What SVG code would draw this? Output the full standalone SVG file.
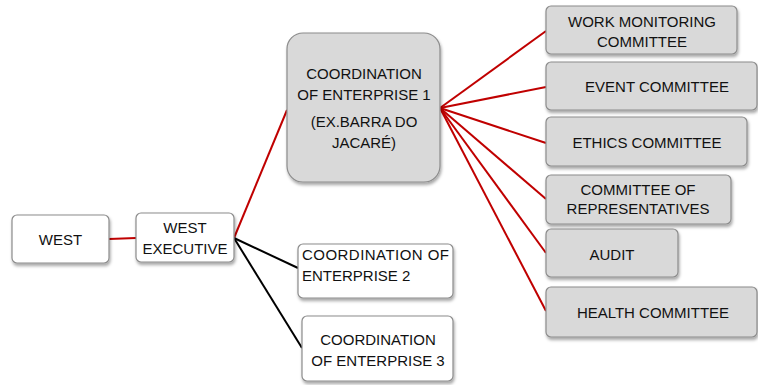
<svg xmlns="http://www.w3.org/2000/svg" width="758" height="385" viewBox="0 0 758 385">
<defs>
<filter id="sh" x="-20%" y="-20%" width="140%" height="150%">
<feDropShadow dx="1" dy="2.5" stdDeviation="1.8" flood-color="#000" flood-opacity="0.35"/>
</filter>
</defs>
<style>
.w{fill:#ffffff;stroke:#8c8c8c;stroke-width:1.2;filter:url(#sh)}
.g{fill:#d9d9d9;stroke:#8c8c8c;stroke-width:1.2;filter:url(#sh)}
text{font-family:"Liberation Sans",Arial,sans-serif;font-size:15px;fill:#111;text-anchor:middle}
.red{stroke:#c00000;stroke-width:2;fill:none}
.blk{stroke:#000;stroke-width:2;fill:none}
</style>
<g id="connectors">
<line class="red" x1="109" y1="239" x2="136" y2="238"/>
<line class="red" x1="234" y1="238" x2="287" y2="110"/>
<line class="blk" x1="234" y1="238" x2="298" y2="268"/>
<line class="blk" x1="234" y1="238" x2="302" y2="348"/>
<line class="red" x1="440" y1="108" x2="546" y2="31"/>
<line class="red" x1="440" y1="108" x2="546" y2="87"/>
<line class="red" x1="440" y1="108" x2="546" y2="143"/>
<line class="red" x1="440" y1="108" x2="546" y2="199"/>
<line class="red" x1="440" y1="108" x2="546" y2="253"/>
<line class="red" x1="440" y1="108" x2="546" y2="311"/>
</g>
<g id="west">
<rect class="w" x="12" y="215" width="97" height="48" rx="5"/>
<text x="60.5" y="245">WEST</text>
</g>
<g id="west-executive">
<rect class="w" x="136" y="213" width="98" height="49" rx="5"/>
<text x="185" y="233">WEST</text>
<text x="185" y="254">EXECUTIVE</text>
</g>
<g id="coord1">
<rect class="g" x="287" y="33" width="153" height="149" rx="16"/>
<text x="364" y="79">COORDINATION</text>
<text x="364" y="100">OF ENTERPRISE 1</text>
<text x="364" y="127">(EX.BARRA DO</text>
<text x="364" y="148">JACARÉ)</text>
</g>
<g id="coord2">
<rect class="w" x="298" y="244" width="155" height="54" rx="5"/>
<text x="302" y="260" style="text-anchor:start" textLength="147" lengthAdjust="spacing">COORDINATION OF</text>
<text x="302" y="281" style="text-anchor:start">ENTERPRISE 2</text>
</g>
<g id="coord3">
<rect class="w" x="302" y="316" width="151" height="65" rx="5"/>
<text x="378" y="345">COORDINATION</text>
<text x="378" y="366">OF ENTERPRISE 3</text>
</g>
<g id="work-monitoring">
<rect class="g" x="546" y="6" width="191" height="48" rx="5"/>
<text x="642" y="27">WORK MONITORING</text>
<text x="642" y="47">COMMITTEE</text>
</g>
<g id="event">
<rect class="g" x="546" y="62" width="211" height="48" rx="5"/>
<text x="657" y="92">EVENT COMMITTEE</text>
</g>
<g id="ethics">
<rect class="g" x="546" y="117" width="201" height="49" rx="5"/>
<text x="647" y="148">ETHICS COMMITTEE</text>
</g>
<g id="representatives">
<rect class="g" x="546" y="175" width="185" height="49" rx="5"/>
<text x="638" y="195">COMMITTEE OF</text>
<text x="638" y="214">REPRESENTATIVES</text>
</g>
<g id="audit">
<rect class="g" x="546" y="229" width="132" height="48" rx="5"/>
<text x="612" y="260">AUDIT</text>
</g>
<g id="health">
<rect class="g" x="546" y="287" width="211" height="50" rx="5"/>
<text x="653" y="318">HEALTH COMMITTEE</text>
</g>
</svg>
